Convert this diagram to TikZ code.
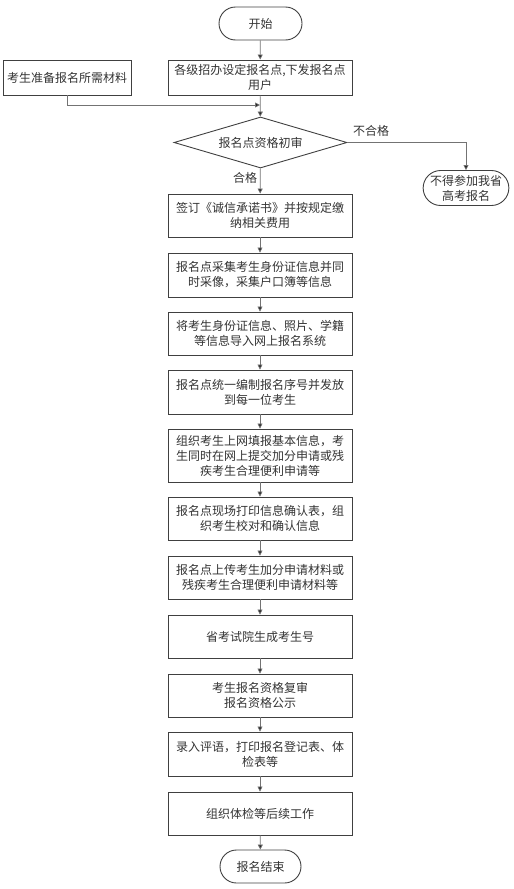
\documentclass[tikz,border=0pt]{standalone}
\usepackage{fontspec}
\setmainfont{Noto Sans CJK SC}
\usetikzlibrary{shapes.geometric,shapes.misc,arrows.meta}
\tikzset{
  base/.style={draw=black!75, line width=0.9pt, text=black!80, align=center,
    font=\fontsize{12}{15}\selectfont, inner sep=2pt},
  procbox/.style={base, rectangle, minimum width=184pt},
  term/.style={base, rounded rectangle},
  decision/.style={base, diamond, aspect=3.39, inner sep=0pt, minimum width=173pt, minimum height=51pt},
  conn/.style={draw=black!55, line width=0.7pt, -{Triangle[length=5pt,width=5pt,fill=black!85]}},
  lbl/.style={text=black!80, font=\fontsize{12}{15}\selectfont}
}
\begin{document}
\begin{tikzpicture}[x=1pt,y=-1pt]
\useasboundingbox (0,0) rectangle (514,889);
\node[term, minimum width=87pt, minimum height=33pt] (start) at (260.5,23.5) {开始};
\node[procbox, minimum height=35pt] (b1) at (260,77.5) {各级招办设定报名点,下发报名点\\用户};
\node[procbox, minimum width=128pt, minimum height=35pt] (left) at (67,77.5) {考生准备报名所需材料};
\node[decision] (d) at (260.5,142.5) {报名点资格初审};
\node[term, minimum width=85pt, minimum height=35pt, inner sep=1pt] (rej) at (466,188) {不得参加我省\\高考报名};
\node[procbox, minimum height=43pt] (b2) at (260,215.5) {签订《诚信承诺书》并按规定缴\\纳相关费用};
\node[procbox, minimum height=44pt] (b3) at (260,275) {报名点采集考生身份证信息并同\\时采像，采集户口簿等信息};
\node[procbox, minimum height=43pt] (b4) at (260,333.5) {将考生身份证信息、照片、学籍\\等信息导入网上报名系统};
\node[procbox, minimum height=44pt] (b5) at (260,392) {报名点统一编制报名序号并发放\\到每一位考生};
\node[procbox, minimum height=53pt] (b6) at (260,455.5) {组织考生上网填报基本信息，考\\生同时在网上提交加分申请或残\\疾考生合理便利申请等};
\node[procbox, minimum height=43pt] (b7) at (260,518.5) {报名点现场打印信息确认表，组\\织考生校对和确认信息};
\node[procbox, minimum height=43pt] (b8) at (260,577.5) {报名点上传考生加分申请材料或\\残疾考生合理便利申请材料等};
\node[procbox, minimum height=43pt] (b9) at (260,636.5) {省考试院生成考生号};
\node[procbox, minimum height=43pt] (b10) at (260,695.5) {考生报名资格复审\\报名资格公示};
\node[procbox, minimum height=44pt] (b11) at (260,754) {录入评语，打印报名登记表、体\\检表等};
\node[procbox, minimum height=43pt] (b12) at (260,813.5) {组织体检等后续工作};
\node[term, minimum width=85pt, minimum height=33pt] (end) at (260.5,866.5) {报名结束};
\coordinate (j) at (260,105);
\draw[conn] (start) -- (b1);
\draw[conn] (b1) -- (d);
\draw[conn] (left.south) |- (j);
\draw[conn] (d.east) -| (rej.north);
\draw[conn] (d) -- (b2);
\draw[conn] (b2) -- (b3);
\draw[conn] (b3) -- (b4);
\draw[conn] (b4) -- (b5);
\draw[conn] (b5) -- (b6);
\draw[conn] (b6) -- (b7);
\draw[conn] (b7) -- (b8);
\draw[conn] (b8) -- (b9);
\draw[conn] (b9) -- (b10);
\draw[conn] (b10) -- (b11);
\draw[conn] (b11) -- (b12);
\draw[conn] (b12) -- (end);
\node[lbl] (l1) at (371,131) {不合格};
\node[lbl] (l2) at (245,178) {合格};
\end{tikzpicture}
\end{document}
